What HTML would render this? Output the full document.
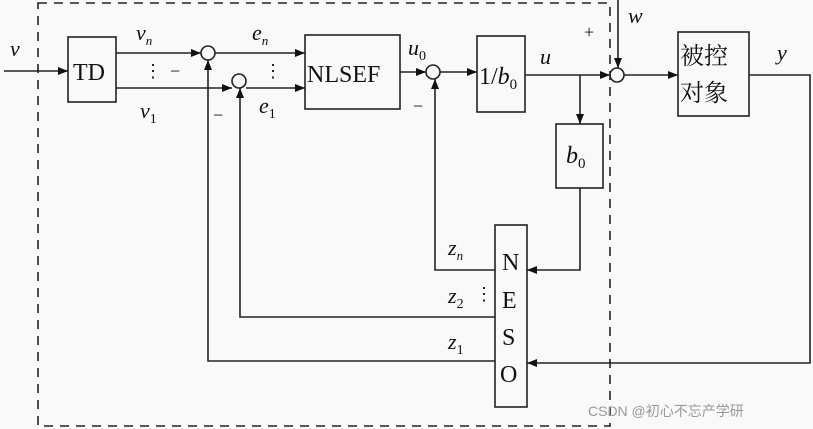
<!DOCTYPE html><html><head><style>body{margin:0;background:#f9f9f9}svg{display:block}text{font-family:"Liberation Serif",serif;fill:#111}</style></head><body>
<svg width="813" height="429" viewBox="0 0 813 429">
<defs><marker id="a" markerWidth="10" markerHeight="8" refX="10" refY="4" orient="auto" markerUnits="userSpaceOnUse"><path d="M0,0L10,4L0,8z" fill="#111"/></marker></defs>
<g fill="none" stroke="#222" stroke-width="1.6">
<path d="M38,3H610V426H38Z" stroke-dasharray="9,7"/>
<rect x="68" y="37" width="48" height="65"/>
<rect x="305" y="35" width="95" height="74"/>
<rect x="477" y="36" width="48" height="76"/>
<rect x="556" y="124" width="47" height="64"/>
<rect x="495" y="225" width="32" height="182"/>
<rect x="678" y="32" width="71" height="84"/>
<circle cx="208" cy="53" r="7"/><circle cx="239" cy="81" r="7"/><circle cx="433" cy="72" r="7"/><circle cx="617" cy="75" r="7"/>
<path d="M4,71H68" marker-end="url(#a)"/>
<path d="M116,53H201" marker-end="url(#a)"/>
<path d="M116,88H232" marker-end="url(#a)"/>
<path d="M215,53H305" marker-end="url(#a)"/>
<path d="M246,88H305" marker-end="url(#a)"/>
<path d="M400,72H426" marker-end="url(#a)"/>
<path d="M440,72H477" marker-end="url(#a)"/>
<path d="M525,75H610" marker-end="url(#a)"/>
<path d="M580,75V124" marker-end="url(#a)"/>
<path d="M618,0V68" marker-end="url(#a)"/>
<path d="M624,75H678" marker-end="url(#a)"/>
<path d="M580,188V270H527" marker-end="url(#a)"/>
<path d="M749,75H810V363H527" marker-end="url(#a)"/>
<path d="M495,270H435V79" marker-end="url(#a)"/>
<path d="M495,317H240V88" marker-end="url(#a)"/>
<path d="M495,361H208V60" marker-end="url(#a)"/>
</g>
<g font-size="24"><text x="73" y="80">TD</text><text x="307" y="82">NLSEF</text>
<text x="479" y="84">1/<tspan font-style="italic">b</tspan><tspan font-size="15" dy="5">0</tspan></text>
<text x="566" y="163" font-style="italic">b<tspan font-size="15" dy="5" font-style="normal">0</tspan></text>
<text x="502" y="270">N</text><text x="502" y="308">E</text><text x="502" y="345">S</text><text x="500" y="382">O</text>
<text x="680" y="64" style="font-family:'Noto Serif CJK SC','Noto Sans CJK SC',serif">被控</text>
<text x="680" y="101" style="font-family:'Noto Serif CJK SC','Noto Sans CJK SC',serif">对象</text>
</g>
<g font-size="22" font-style="italic">
<text x="10" y="56">v</text><text x="136" y="40">v<tspan font-size="13" dy="5">n</tspan></text>
<text x="140" y="118">v<tspan font-size="14" dy="5" font-style="normal">1</tspan></text>
<text x="252" y="40">e<tspan font-size="13" dy="5">n</tspan></text>
<text x="259" y="113">e<tspan font-size="14" dy="5" font-style="normal">1</tspan></text>
<text x="408" y="55">u<tspan font-size="14" dy="5" font-style="normal">0</tspan></text>
<text x="540" y="64">u</text><text x="628" y="23">w</text><text x="777" y="60">y</text>
<text x="448" y="255">z<tspan font-size="13" dy="5">n</tspan></text>
<text x="448" y="303">z<tspan font-size="14" dy="5" font-style="normal">2</tspan></text>
<text x="448" y="349">z<tspan font-size="14" dy="5" font-style="normal">1</tspan></text>
</g>
<g font-size="18"><text x="144" y="77">⋮</text><text x="264" y="77">⋮</text><text x="475" y="300">⋮</text>
<text x="170" y="77">−</text><text x="213" y="121">−</text><text x="413" y="112">−</text><text x="584" y="38">+</text></g>
<text x="588" y="416" font-size="14" style="font-family:'Liberation Sans','Noto Sans CJK SC',sans-serif;fill:#999">CSDN @初心不忘产学研</text>
</svg></body></html>
